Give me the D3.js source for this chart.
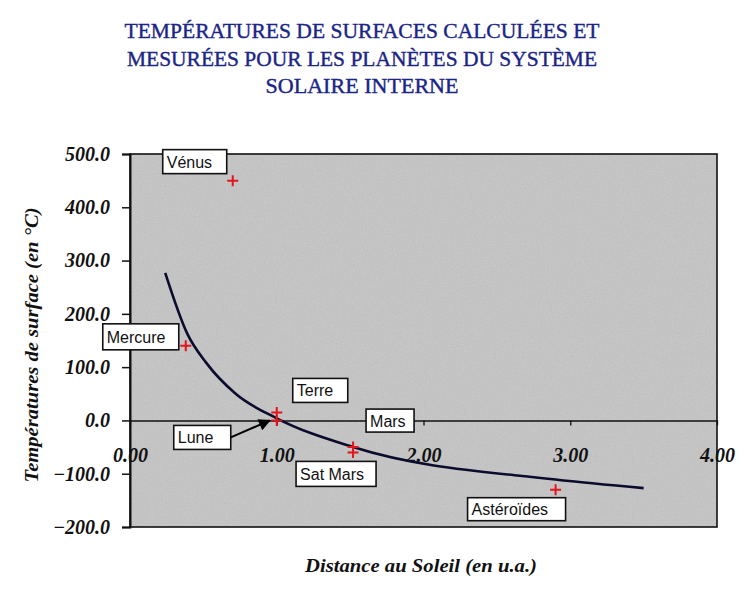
<!DOCTYPE html>
<html>
<head>
<meta charset="utf-8">
<script src="https://cdnjs.cloudflare.com/ajax/libs/d3/7.8.5/d3.min.js"></script>
<style>
	body { margin: 0; background: #fff; }
	.tick-lbl { font-family: "Liberation Serif", "Times New Roman", serif; font-weight: bold; font-style: italic; font-size: 20px; fill: #111; }
	.box-lbl { font-family: "Liberation Sans", Arial, sans-serif; font-size: 16px; fill: #111; }
</style>
</head>
<body>
<div id="chart"></div>
<script>
// Titre
var titleLines = ["TEMPÉRATURES DE SURFACES CALCULÉES ET",
	"MESURÉES POUR LES PLANÈTES DU SYSTÈME",
	"SOLAIRE INTERNE"];

// Courbe calculée (distance en u.a., température en °C)
var calcDist = [0.24, 0.39, 0.52, 0.72, 1.00, 1.52, 2.90, 3.50];
var calcTemp = [277, 163, 108, 50, 4, -50, -111, -127];

// Températures mesurées
var bodies = ["Vénus", "Mercure", "Terre", "Lune", "Mars", "Sat Mars", "Astéroïdes"];
var bodyDist = [0.70, 0.38, 1.00, 1.00, 1.52, 1.52, 2.90];
var bodyTemp = [450, 140, 15, 0, -50, -60, -130];

// Position des étiquettes (décalage en px par rapport au point)
var labelOffsets = [
	{dx: -70, dy: -31, w: 64, h: 24},
	{dx: -83, dy: -22, w: 76, h: 26},
	{dx: 16, dy: -34, w: 55, h: 24},
	{dx: -103, dy: 5, w: 57, h: 24},
	{dx: 13, dy: -38, w: 48, h: 23},
	{dx: -57, dy: 9, w: 80, h: 25},
	{dx: -88, dy: 8, w: 98, h: 23}
];

var xTicks = [0, 1, 2, 3, 4];
var yTicks = [-200, -100, 0, 100, 200, 300, 400, 500];

var width = 756, height = 598;
var mLeft = 130, mRight = 717, mTop = 154, mBottom = 527;

var x = d3.scaleLinear().domain([0, 4]).range([mLeft, mRight]);
var y = d3.scaleLinear().domain([-200, 500]).range([mBottom, mTop]);
var f2 = d3.format(".2f"), f1 = d3.format(".1f");

var svg = d3.select("#chart").append("svg").attr("width", width).attr("height", height);

var defs = svg.append("defs");
var flt = defs.append("filter").attr("id", "grain").attr("x", 0).attr("y", 0)
	.attr("width", 1).attr("height", 1);
flt.append("feTurbulence").attr("type", "fractalNoise").attr("baseFrequency", 0.9)
	.attr("numOctaves", 2).attr("seed", 3);
flt.append("feColorMatrix").attr("type", "saturate").attr("values", 0);
defs.append("marker").attr("id", "arrow").attr("viewBox", "0 0 10 10")
	.attr("refX", 9).attr("refY", 5).attr("markerWidth", 7).attr("markerHeight", 6)
	.attr("orient", "auto").append("path").attr("d", "M0,0L10,5L0,10z").attr("fill", "#000");

// titre
svg.append("g").selectAll("text").data(titleLines).enter().append("text")
	.attr("x", 362).attr("y", function(d, i) { return 38 + i * 27.5; })
	.attr("text-anchor", "middle")
	.attr("textLength", function(d, i) { return [475, 470, 193][i]; })
	.attr("lengthAdjust", "spacingAndGlyphs")
	.style("font-family", "'Liberation Serif', 'DejaVu Serif', serif")
	.style("font-size", "22px").style("fill", "#1a2585")
	.style("stroke", "#1a2585").style("stroke-width", 0.4)
	.text(function(d) { return d; });

// zone de tracé
svg.append("rect").attr("x", mLeft).attr("y", mTop).attr("width", mRight - mLeft)
	.attr("height", mBottom - mTop).attr("fill", "#c5c5c5");
svg.append("rect").attr("x", mLeft).attr("y", mTop).attr("width", mRight - mLeft)
	.attr("height", mBottom - mTop).attr("filter", "url(#grain)").attr("opacity", 0.22);
svg.append("rect").attr("x", mLeft).attr("y", mTop).attr("width", mRight - mLeft)
	.attr("height", mBottom - mTop).attr("fill", "none").attr("stroke", "#111")
	.attr("stroke-width", 1.6);

// axe Y
var yAxis = svg.append("g").attr("transform", "translate(" + mLeft + ",0)")
	.call(d3.axisLeft(y).tickValues(yTicks).tickSize(8).tickPadding(12).tickFormat(f1));
yAxis.select(".domain").attr("stroke", "#111").attr("stroke-width", 2);
yAxis.selectAll(".tick line").attr("stroke", "#111").attr("stroke-width", 1.5);
yAxis.selectAll(".tick text").attr("class", "tick-lbl").attr("fill", null);

// axe X sur la ligne 0
var xAxis = svg.append("g").attr("transform", "translate(0," + y(0) + ")")
	.call(d3.axisBottom(x).tickValues(xTicks).tickSize(5).tickPadding(22).tickSizeOuter(0).tickFormat(f2));
xAxis.select(".domain").attr("stroke", "#111").attr("stroke-width", 1.6);
xAxis.selectAll(".tick line").attr("stroke", "#111").attr("stroke-width", 1.3);
xAxis.selectAll(".tick text").attr("class", "tick-lbl").attr("fill", null);

// courbe calculée
var line = d3.line().x(function(d) { return x(d[0]); }).y(function(d) { return y(d[1]); })
	.curve(d3.curveMonotoneX);
svg.append("path").datum(d3.zip(calcDist, calcTemp)).attr("d", line)
	.attr("fill", "none").attr("stroke", "#0b0b2e").attr("stroke-width", 2.6);

// étiquettes
var pts = bodies.map(function(b, i) {
	return {name: b, px: x(bodyDist[i]), py: y(bodyTemp[i]), o: labelOffsets[i]};
});

var lab = svg.append("g").selectAll("g").data(pts).enter().append("g")
	.attr("transform", function(d) { return "translate(" + (d.px + d.o.dx) + "," + (d.py + d.o.dy) + ")"; });
lab.append("rect").attr("width", function(d) { return d.o.w; })
	.attr("height", function(d) { return d.o.h; })
	.attr("fill", "#fff").attr("stroke", "#111").attr("stroke-width", 1.6);
lab.append("text").attr("class", "box-lbl").attr("x", 4)
	.attr("y", function(d) { return d.o.h / 2 + 6; })
	.text(function(d) { return d.name; });

// flèche Lune
var lune = pts[3];
svg.append("line").attr("x1", lune.px + lune.o.dx + lune.o.w).attr("y1", lune.py + lune.o.dy + lune.o.h / 2)
	.attr("x2", lune.px - 7).attr("y2", lune.py).attr("stroke", "#000").attr("stroke-width", 2)
	.attr("marker-end", "url(#arrow)");

// croix rouges
svg.append("g").selectAll("path").data(pts).enter().append("path")
	.attr("d", function(d) { return "M" + (d.px - 5.5) + "," + d.py + "h11M" + d.px + "," + (d.py - 5.5) + "v11"; })
	.attr("stroke", "#e3141b").attr("stroke-width", 2).attr("fill", "none");

// titres des axes
svg.append("text").attr("transform", "translate(38,345)rotate(-90)")
	.attr("text-anchor", "middle").attr("textLength", 275).attr("lengthAdjust", "spacingAndGlyphs")
	.attr("class", "tick-lbl").style("font-size", "19px")
	.text("Températures de surface (en °C)");
svg.append("text").attr("x", 421).attr("y", 572).attr("text-anchor", "middle")
	.attr("textLength", 232).attr("lengthAdjust", "spacingAndGlyphs")
	.attr("class", "tick-lbl").style("font-size", "19px")
	.text("Distance au Soleil (en u.a.)");
</script>
</body>
</html>
